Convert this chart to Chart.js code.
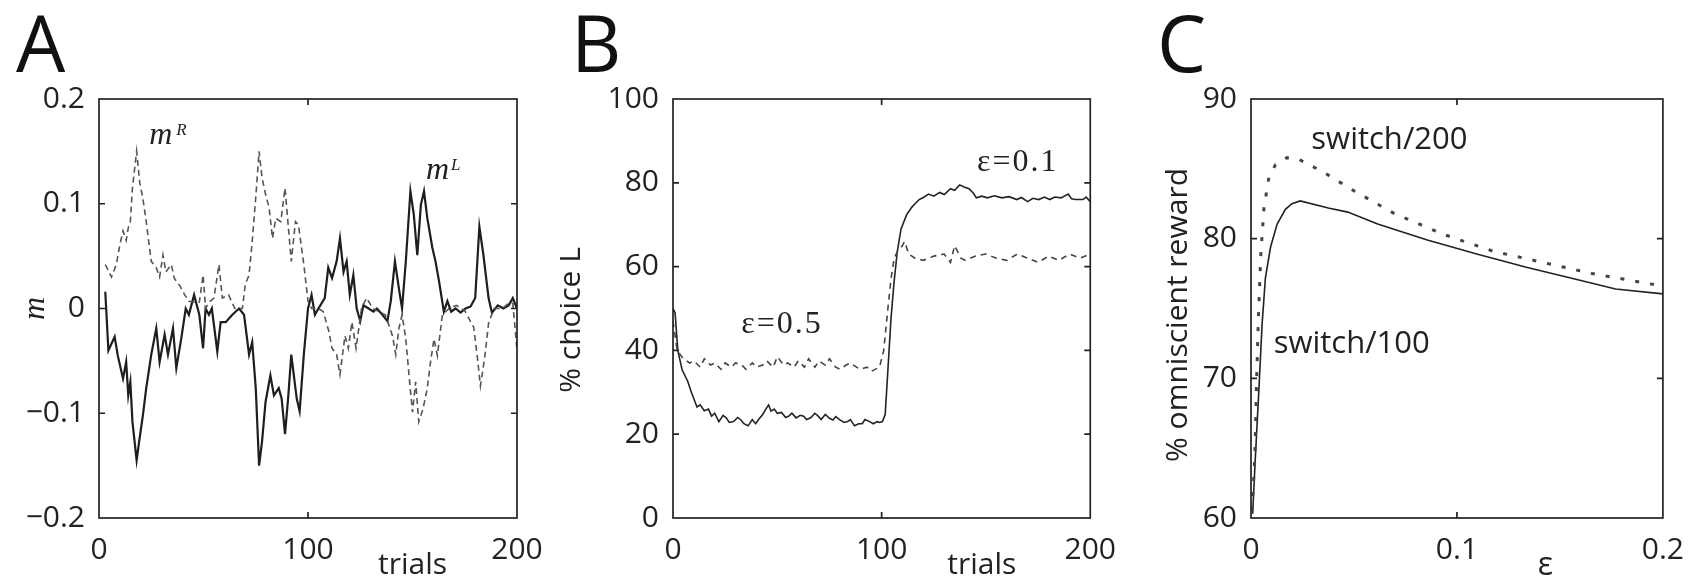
<!DOCTYPE html>
<html><head><meta charset="utf-8">
<script src="https://cdn.jsdelivr.net/npm/chart.js@4.4.1/dist/chart.umd.min.js"></script>
<style>
html,body{margin:0;padding:0;background:#fff;}
#wrap{position:relative;width:1698px;height:577px;overflow:hidden;background:#fff;}
canvas{position:absolute;top:0;}
</style></head><body>
<div id="wrap">
<canvas id="cA" width="560" height="577" style="left:0px"></canvas>
<canvas id="cB" width="570" height="577" style="left:560px"></canvas>
<canvas id="cC" width="568" height="577" style="left:1130px"></canvas>
</div>
<script>
// ---------- Panel A: m^L (solid) and m^R (dashed) over trials ----------
const trialsL = [3,4.5,7.5,9,11.5,13,14,15,16,18,19,21,22.6,25,27.4,29,31.4,33,35.4,37,39.4,41.5,43,45.5,48,49.8,51,52.6,54,56.6,58.2,60.6,63.8,67,69.4,71.8,73.3,75,76.6,78,79.7,82,83.7,86,87.4,89,90.6,92,94.6,96,98,100,101.7,103.3,105,108,109.7,111.5,113.7,115.3,117,118.5,120,121.7,123.3,125,126.5,129,131.3,133,135.6,138,139.6,141.6,143.5,145,146.8,149,150.6,152.3,154,155.5,157.1,159.5,161,162.7,165,166.7,168.5,170.6,173,175.4,177.8,180,182,183.8,186.4,188,190.8,193.5,196,198,200];
const mL = [0.016,-0.04,-0.027,-0.045,-0.067,-0.051,-0.083,-0.07,-0.108,-0.145,-0.13,-0.102,-0.076,-0.044,-0.019,-0.051,-0.025,-0.044,-0.019,-0.057,-0.028,0,-0.006,0.013,-0.006,-0.038,0,-0.006,0,-0.041,-0.013,-0.013,-0.006,0,-0.006,-0.044,-0.032,-0.076,-0.15,-0.127,-0.089,-0.064,-0.083,-0.076,-0.086,-0.12,-0.083,-0.044,-0.086,-0.098,-0.044,0,0.013,-0.006,0,0.01,0.039,0.029,0.045,0.067,0.035,0.045,0.013,0.032,0,-0.012,0.003,0,-0.003,0,-0.006,-0.012,0.007,0.045,0.019,0,0.045,0.112,0.09,0.051,0.099,0.112,0.086,0.058,0.045,0.026,-0.003,0.007,-0.003,0,-0.004,0,0.002,0.01,0.078,0.053,0.01,-0.004,0.003,0,0.003,0.01,0];
const trialsR = [3,6,8.3,10,11.5,13,14,15,16,18,19.5,21,22.6,23.4,25,27.4,29,30.6,32,34.6,36,38.6,41,43,45.5,48,49.8,51,52.6,55,57.4,59,62,65,68.6,70,71.8,73.3,75,76.6,78,79.7,81.4,83,84.6,87,89,90.5,92,94,95.4,98,100,101.7,105,107.3,110,111.5,113.7,115.3,117.7,119.3,121,123,125.6,128,131,134,137,140.4,142,143.5,145,146.8,148.3,150,151.5,153,155,157,158.7,160.3,161.9,164.3,167.5,171,175,179.3,181,182.5,184.6,186.4,189,193,196,198,200];
const mR = [0.042,0.03,0.042,0.061,0.074,0.065,0.077,0.083,0.115,0.15,0.12,0.105,0.083,0.07,0.045,0.039,0.03,0.051,0.035,0.042,0.029,0.022,0.013,0.007,0.006,0.006,0.032,0,0.006,0.01,0.042,0.01,0.013,0,0,0.023,0.032,0.064,0.106,0.15,0.125,0.109,0.096,0.067,0.086,0.083,0.115,0.08,0.045,0.083,0.08,0.042,0.007,0,0,-0.003,-0.022,-0.038,-0.044,-0.063,-0.026,-0.038,-0.013,-0.038,0,0.01,0,-0.003,-0.006,-0.026,-0.044,-0.019,-0.006,-0.029,-0.063,-0.099,-0.07,-0.108,-0.096,-0.077,-0.05,-0.029,-0.045,-0.006,0,0.003,-0.002,-0.018,-0.046,-0.074,-0.046,-0.014,0,0,0.005,0.005,-0.04];
const xTicksTrials = [0, 100, 200];
const xTickLabelsTrials = ['0', '100', '200'];
const yTicksA = [-0.2, -0.1, 0, 0.1, 0.2];
const yTickLabelsA = ['\u22120.2', '\u22120.1', '0', '0.1', '0.2'];

// ---------- Panel B: % choice L over trials ----------
const trialsB01 = [0,1,2.3,4.4,7,8.8,11.5,13,15,17,18.5,20,22,24,25.5,27,29,31,32.6,34,36,38,39.6,41,43,44.5,45.8,47,48.5,50,52,54,55.5,57,59,61,62.6,64,66,68,69.6,71,73,75,76.7,78,80,82,83.7,85,87,89,90.7,92,94.3,96,97.8,99,100.4,101.7,103,104.5,106,107.5,109.3,112,114.5,116,118,120,122.5,125,127.8,130,133,135,137.4,139.5,141.9,144,145.4,148,150.7,154,157.7,161,164.8,167,170,172.5,175.3,178,180.6,183,186,189.4,191,193,196.5,198,200];
const choiceEps01 = [50,49,40,35.3,32.7,30,26.5,27,25.6,26,24.3,25,23,24.5,23.9,22.8,23,24,23.4,22.5,22,23.5,22.5,23.5,24.7,26,27,25.5,26,25,25.2,24,24.3,25,23.9,24.5,24.3,23.5,23.9,25,24.3,23.5,24.7,23.8,23.4,24.2,23.4,22.8,23,23.5,22,22.5,22.5,23.5,23,22.5,23,22.8,23,24.7,35.3,47.7,56.5,63.6,69,72.4,74.2,75,76,76.5,77.3,76.8,77.7,77.2,78.6,78.2,79.5,79,78.6,77.5,76.4,76.8,76.4,76.9,76.4,76.7,76,76.5,75.5,76.3,76,76.6,76,76.6,76.4,77.3,76.2,76,76,76.6,75.5];
const trialsB05 = [0,2,5,8,10,13,15,18,20,23,25,28,30,33,35,38,40,43,45,48,50,53,55,58,60,63,65,68,70,73,75,78,80,83,85,88,90,93,95,99,101,103,104.5,106,108,110,111,113,116,120,125,130,133,135,138,140,145,150,155,160,165,170,175,180,185,190,195,200];
const choiceEps05 = [47,40,38,37,37.5,36,38,36.5,37,35.5,37,36,37,36.5,35.5,37,36,36.5,37.5,36,38.5,36.5,37,36,37.5,36,38,36,37.5,36.5,38,36,35.5,36.5,37,36,35.5,36,35,36,40,50,57,62,64,65,66,63,62,61.5,62.5,63,61,65,62,61.5,62.5,63,62,61.5,63,62,61,62.5,61.5,63,62,63];
const yTicksB = [0, 20, 40, 60, 80, 100];
const yTickLabelsB = ['0', '20', '40', '60', '80', '100'];

// ---------- Panel C: % omniscient reward vs epsilon ----------
const epsSwitch100 = [0.0008,0.002,0.0038,0.0054,0.007,0.0095,0.0127,0.0167,0.0199,0.0239,0.0375,0.047,0.0615,0.0856,0.1096,0.1337,0.1577,0.177,0.2];
const rewardSwitch100 = [60.3,64,69.1,73.9,77.2,79.4,81.05,82.1,82.5,82.7,82.2,81.9,81.05,79.9,78.9,77.95,77.1,76.4,76.05];
const epsSwitch200 = [0.0005,0.0019,0.0026,0.0035,0.0047,0.0063,0.0087,0.0119,0.0175,0.023,0.0295,0.0359,0.0503,0.0696,0.0936,0.1176,0.1417,0.1657,0.2];
const rewardSwitch200 = [60.5,64.4,69.1,73.9,78.7,82.2,84.4,85.3,85.8,85.7,85.2,84.7,83.4,81.8,80.3,79.1,78.3,77.5,76.6];
const xTicksC = [0, 0.1, 0.2];
const xTickLabelsC = ['0', '0.1', '0.2'];
const yTicksC = [60, 70, 80, 90];
const yTickLabelsC = ['60', '70', '80', '90'];

// ---------- rendering ----------
const SANS = "'Open Sans', 'Noto Sans', sans-serif";
const SERIF = "'Liberation Serif', 'DejaVu Serif', serif";
Chart.defaults.font.family = SANS;
Chart.defaults.color = '#222';

const pts = (xs, ys) => xs.map((x, i) => ({x: x, y: ys[i]}));

function framePlugin(drawText) {
  return {
    id: 'frame',
    afterDraw(chart) {
      const ctx = chart.ctx, a = chart.chartArea, sx = chart.scales.x, sy = chart.scales.y;
      ctx.save();
      ctx.strokeStyle = '#222';
      ctx.lineWidth = 1.7;
      ctx.strokeRect(a.left, a.top, a.right - a.left, a.bottom - a.top);
      const L = 6;
      ctx.beginPath();
      sx.ticks.forEach(t => {
        const p = sx.getPixelForValue(t.value);
        if (p <= a.left + 1 || p >= a.right - 1) return;
        ctx.moveTo(p, a.bottom); ctx.lineTo(p, a.bottom - L);
        ctx.moveTo(p, a.top); ctx.lineTo(p, a.top + L);
      });
      sy.ticks.forEach(t => {
        const p = sy.getPixelForValue(t.value);
        if (p <= a.top + 1 || p >= a.bottom - 1) return;
        ctx.moveTo(a.left, p); ctx.lineTo(a.left + L, p);
        ctx.moveTo(a.right, p); ctx.lineTo(a.right - L, p);
      });
      ctx.stroke();
      ctx.fillStyle = '#1a1a1a';
      ctx.textBaseline = 'alphabetic';
      drawText(ctx, a, sx, sy);
      ctx.restore();
    }
  };
}

function rotText(ctx, text, bx, cy, font) {
  ctx.save();
  ctx.font = font;
  ctx.translate(bx, cy);
  ctx.rotate(-Math.PI / 2);
  ctx.textAlign = 'center';
  ctx.fillText(text, 0, 0);
  ctx.restore();
}

function makePanel(id, W, H, area, datasets, xCfg, yCfg, drawText) {
  const scaleBase = (cfg) => ({
    type: 'linear',
    min: cfg.min, max: cfg.max,
    grid: {display: false, drawTicks: false},
    border: {display: false},
    afterBuildTicks: s => { s.ticks = cfg.ticks.map(v => ({value: v})); },
    ticks: {
      autoSkip: false, maxRotation: 0, minRotation: 0,
      color: '#222',
      font: {size: 30, family: SANS},
      callback: (v, i) => cfg.labels[i]
    }
  });
  const xs = scaleBase(xCfg);
  xs.ticks.padding = 14;
  xs.afterFit = s => { s.height = H - area.bottom; };
  const ys = scaleBase(yCfg);
  ys.ticks.padding = 14;
  ys.afterFit = s => { s.width = area.left; };
  new Chart(document.getElementById(id), {
    type: 'scatter',
    data: {datasets: datasets},
    options: {
      responsive: false, animation: false, devicePixelRatio: 1,
      layout: {padding: {left: 0, bottom: 0, top: area.top, right: W - area.right}},
      plugins: {legend: {display: false}, tooltip: {enabled: false}},
      scales: {x: xs, y: ys}
    },
    plugins: [framePlugin(drawText)]
  });
}

const lineDs = (data, color, width, dash) => ({
  data: data, showLine: true, pointRadius: 0, borderColor: color,
  borderWidth: width, borderDash: dash || [], tension: 0, fill: false,
  borderCapStyle: 'butt', borderJoinStyle: 'miter'
});

// Panel A
makePanel('cA', 560, 577, {left: 99, right: 517, top: 99, bottom: 518},
  [lineDs(pts(trialsR, mR), '#555', 1.6, [6, 4]), lineDs(pts(trialsL, mL), '#1e1e1e', 2.2)],
  {min: 0, max: 200, ticks: xTicksTrials, labels: xTickLabelsTrials},
  {min: -0.2, max: 0.2, ticks: yTicksA, labels: yTickLabelsA},
  (ctx, a, sx, sy) => {
    ctx.font = '78px ' + SANS; ctx.fillStyle = '#111';
    ctx.fillText('A', 16, 72);
    ctx.fillStyle = '#222';
    ctx.font = '30px ' + SANS; ctx.textAlign = 'center';
    ctx.fillText('trials', sx.getPixelForValue(150), 574);
    ctx.textAlign = 'left';
    ctx.font = 'italic 32px ' + SERIF;
    ctx.fillText('m', sx.getPixelForValue(24), sy.getPixelForValue(0.157));
    ctx.fillText('m', sx.getPixelForValue(156.5), sy.getPixelForValue(0.124));
    ctx.font = 'italic 17px ' + SERIF;
    ctx.fillText('R', sx.getPixelForValue(24) + 27, sy.getPixelForValue(0.157) - 9);
    ctx.fillText('L', sx.getPixelForValue(156.5) + 25, sy.getPixelForValue(0.124) - 9);
    rotText(ctx, 'm', 44, sy.getPixelForValue(0), 'italic 32px ' + SERIF);
  });

// Panel B
makePanel('cB', 570, 577, {left: 113, right: 533, top: 99, bottom: 518},
  [lineDs(pts(trialsB05, choiceEps05), '#444', 1.6, [6, 5]), lineDs(pts(trialsB01, choiceEps01), '#222', 1.6)],
  {min: 0, max: 200, ticks: xTicksTrials, labels: xTickLabelsTrials},
  {min: 0, max: 100, ticks: yTicksB, labels: yTickLabelsB},
  (ctx, a, sx, sy) => {
    ctx.font = '78px ' + SANS; ctx.fillStyle = '#111';
    ctx.fillText('B', 11, 72);
    ctx.fillStyle = '#222';
    ctx.font = '30px ' + SANS; ctx.textAlign = 'center';
    ctx.fillText('trials', sx.getPixelForValue(148), 574);
    ctx.textAlign = 'left';
    ctx.font = '32px ' + SERIF;
    if ('letterSpacing' in ctx) ctx.letterSpacing = '2px';
    ctx.fillText('\u03b5=0.5', sx.getPixelForValue(32.7), sy.getPixelForValue(44.2));
    ctx.fillText('\u03b5=0.1', sx.getPixelForValue(145.7), sy.getPixelForValue(82.8));
    if ('letterSpacing' in ctx) ctx.letterSpacing = '0px';
    rotText(ctx, '% choice L', 20, 320, '30px ' + SANS);
  });

// Panel C
makePanel('cC', 568, 577, {left: 121, right: 538, top: 99, bottom: 518},
  [lineDs(pts(epsSwitch200, rewardSwitch200), '#444', 3, [4, 11]), lineDs(pts(epsSwitch100, rewardSwitch100), '#222', 1.6)],
  {min: 0, max: 0.2, ticks: xTicksC, labels: xTickLabelsC},
  {min: 60, max: 90, ticks: yTicksC, labels: yTickLabelsC},
  (ctx, a, sx, sy) => {
    ctx.font = '78px ' + SANS; ctx.fillStyle = '#111';
    ctx.fillText('C', 27, 72);
    ctx.fillStyle = '#222';
    ctx.font = '32px ' + SANS; ctx.textAlign = 'center';
    ctx.fillText('\u03b5', sx.getPixelForValue(0.143), 575);
    ctx.textAlign = 'left';
    ctx.font = '31px ' + SANS;
    ctx.fillText('switch/200', sx.getPixelForValue(0.0293), sy.getPixelForValue(86.4));
    ctx.fillText('switch/100', sx.getPixelForValue(0.011), sy.getPixelForValue(71.8));
    rotText(ctx, '% omniscient reward', 57, 315, '30px ' + SANS);
  });
</script>
</body></html>
